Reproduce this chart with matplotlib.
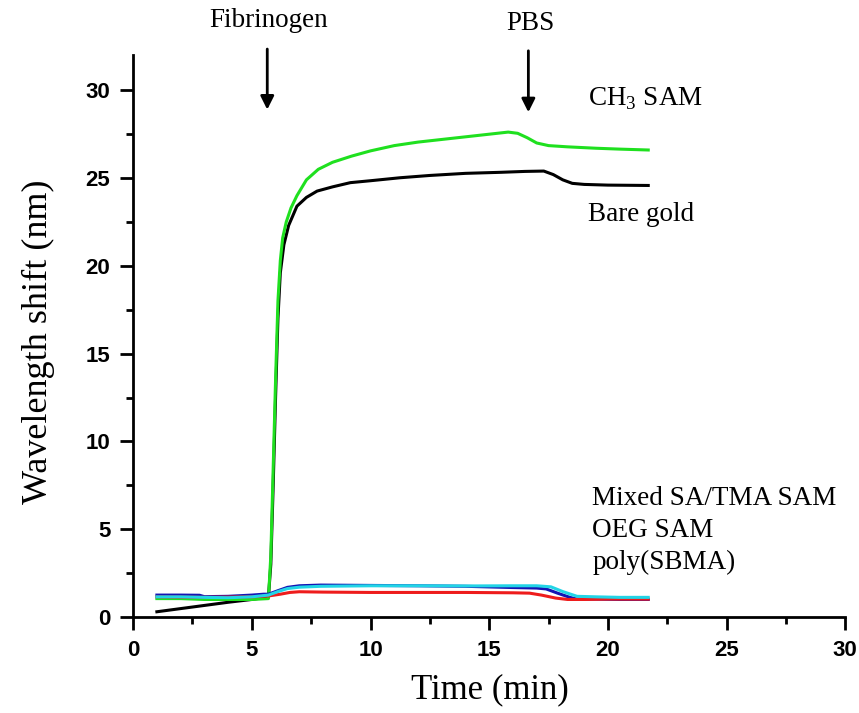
import matplotlib
matplotlib.use("Agg")
import matplotlib.pyplot as plt
from matplotlib.ticker import MultipleLocator

# --- data (time in min, shift in nm) ---
time_bare = [1.0, 2.0, 3.0, 4.0, 5.0, 5.7, 5.8, 5.9, 6.0, 6.1, 6.2, 6.35, 6.55, 6.9, 7.3,
             7.75, 8.4, 9.15, 10.0, 11.25, 12.5, 14.0, 15.5, 16.5, 17.3, 17.7, 18.1, 18.5,
             19.0, 20.0, 21.7]
shift_bare = [0.3, 0.48, 0.66, 0.84, 1.0, 1.15, 3.0, 7.5, 12.5, 17.0, 19.6, 21.2, 22.3, 23.4,
              23.9, 24.26, 24.5, 24.74, 24.85, 25.02, 25.15, 25.27, 25.33, 25.38, 25.4, 25.2,
              24.9, 24.7, 24.64, 24.6, 24.58]

time_ch3 = [1.0, 2.0, 3.0, 4.0, 5.0, 5.7, 5.8, 5.9, 6.0, 6.1, 6.2, 6.3, 6.45, 6.65, 6.9, 7.3,
            7.8, 8.4, 9.2, 10.0, 11.0, 12.0, 13.0, 14.0, 15.0, 15.8, 16.2, 16.6, 17.0, 17.5,
            18.3, 19.5, 20.5, 21.7]
shift_ch3 = [1.05, 1.05, 1.0, 1.0, 1.0, 1.05, 3.5, 8.5, 13.5, 18.0, 20.3, 21.6, 22.5, 23.3,
             24.0, 24.9, 25.5, 25.9, 26.25, 26.55, 26.85, 27.05, 27.2, 27.35, 27.5, 27.62,
             27.55, 27.3, 27.0, 26.85, 26.78, 26.7, 26.65, 26.6]

time_oeg = [1.0, 2.0, 2.8, 3.0, 4.0, 5.0, 5.5, 5.7, 6.1, 6.5, 7.0, 7.9, 10.0, 12.0, 14.0,
            16.0, 17.0, 17.4, 17.9, 18.4, 18.7, 19.5, 20.5, 21.7]
shift_oeg = [1.25, 1.25, 1.24, 1.16, 1.18, 1.25, 1.3, 1.3, 1.5, 1.69, 1.78, 1.82, 1.8, 1.78,
             1.75, 1.68, 1.65, 1.6, 1.35, 1.12, 1.02, 1.02, 1.0, 1.0]

time_sbma = [1.0, 3.0, 5.0, 5.7, 6.2, 6.6, 7.0, 8.0, 10.0, 12.0, 14.0, 16.0, 16.7, 17.2,
             17.8, 18.3, 19.0, 20.0, 21.7]
shift_sbma = [1.15, 1.12, 1.15, 1.2, 1.3, 1.4, 1.44, 1.42, 1.4, 1.4, 1.4, 1.38, 1.36, 1.25,
              1.08, 1.0, 1.0, 1.02, 1.02]

time_mixed = [1.0, 2.0, 3.0, 4.0, 5.0, 5.7, 6.1, 6.5, 7.0, 7.9, 10.0, 12.0, 14.0, 16.0, 17.0,
              17.6, 18.1, 18.7, 19.5, 20.5, 21.7]
shift_mixed = [1.15, 1.15, 1.12, 1.1, 1.15, 1.25, 1.45, 1.62, 1.7, 1.75, 1.78, 1.78, 1.77,
               1.78, 1.78, 1.72, 1.45, 1.18, 1.15, 1.12, 1.12]

SERIF = "Liberation Serif"
TICKFONT = "Liberation Sans"

plt.rcParams["mathtext.fontset"] = "custom"
plt.rcParams["mathtext.rm"] = SERIF

fig = plt.figure(figsize=(8.59, 7.13), dpi=100)
ax = fig.add_axes([0.155, 0.1346, 0.829, 0.788])

ax.plot(time_bare, shift_bare, color="black", lw=2.2)
ax.plot(time_ch3, shift_ch3, color="#1fe01f", lw=2.2)
ax.plot(time_oeg, shift_oeg, color="#1414b4", lw=2.2)
ax.plot(time_sbma, shift_sbma, color="#ee1c1c", lw=2.2)
ax.plot(time_mixed, shift_mixed, color="#22d4e6", lw=2.2)

ax.set_xlim(0, 30)
ax.set_ylim(0, 32)
ax.xaxis.set_major_locator(MultipleLocator(5))
ax.xaxis.set_minor_locator(MultipleLocator(2.5))
ax.yaxis.set_major_locator(MultipleLocator(5))
ax.yaxis.set_minor_locator(MultipleLocator(2.5))
for side in ("top", "right"):
    ax.spines[side].set_visible(False)
for side in ("left", "bottom"):
    ax.spines[side].set_linewidth(2)
ax.tick_params(which="major", direction="out", length=9.5, width=2, pad=7)
ax.tick_params(which="minor", direction="out", length=5, width=2)
for lab in ax.get_xticklabels() + ax.get_yticklabels():
    lab.set_fontfamily(TICKFONT)
    lab.set_fontweight("bold")
    lab.set_fontsize(16)

fig.text(0.57, 0.032, "Time (min)", family=SERIF, fontsize=25, ha="center", va="center")
fig.text(0.045, 0.52, "Wavelength shift (nm)", family=SERIF, fontsize=26,
         ha="center", va="center", rotation=90)

# injection arrows
ax.annotate("", xy=(5.65, 28.9), xytext=(5.65, 32.35), annotation_clip=False,
            arrowprops=dict(arrowstyle="-|>", lw=2, color="black", mutation_scale=20,
                            shrinkA=0, shrinkB=0))
ax.annotate("", xy=(16.65, 28.75), xytext=(16.65, 32.25), annotation_clip=False,
            arrowprops=dict(arrowstyle="-|>", lw=2, color="black", mutation_scale=20,
                            shrinkA=0, shrinkB=0))
ax.text(5.69, 34.0, "Fibrinogen", family=SERIF, fontsize=19.5, ha="center", va="center",
        clip_on=False)
ax.text(16.73, 33.8, "PBS", family=SERIF, fontsize=19.5, ha="center", va="center",
        clip_on=False)

ax.text(19.17, 29.5, r"CH$_3$ SAM", family=SERIF, fontsize=19.5, va="center")
ax.text(19.17, 22.9, "Bare gold", family=SERIF, fontsize=19.5, va="center")
ax.text(19.34, 6.75, "Mixed SA/TMA SAM", family=SERIF, fontsize=19.5, va="center")
ax.text(19.34, 4.9, "OEG SAM", family=SERIF, fontsize=19.5, va="center")
ax.text(19.34, 3.1, "poly(SBMA)", family=SERIF, fontsize=19.5, va="center")

fig.savefig("out.png", dpi=100)
